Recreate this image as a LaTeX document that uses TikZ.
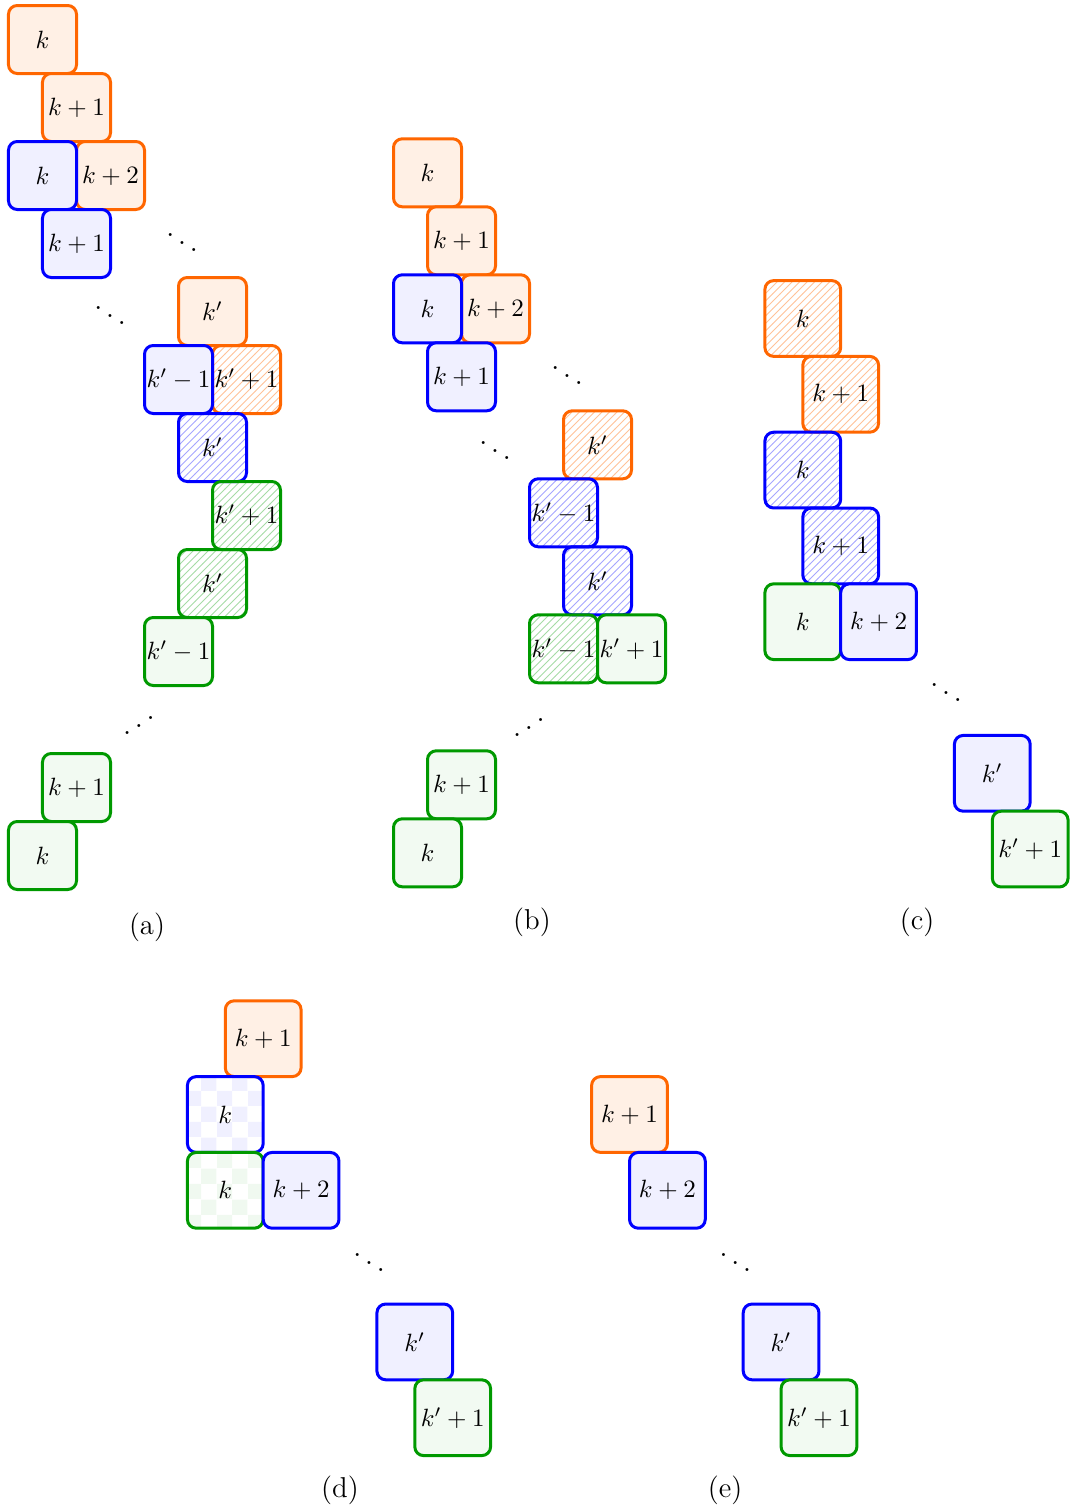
\documentclass[tikz,border=0pt]{standalone}
\usetikzlibrary{patterns,patterns.meta}
\definecolor{myorange}{RGB}{255,102,0}
\definecolor{myblue}{RGB}{0,0,255}
\definecolor{mygreen}{RGB}{0,153,0}
\tikzdeclarepattern{
  name=bigchecker,
  type=uncolored,
  bounding box={(0pt,0pt) and (12.4pt,12.4pt)},
  tile size={(12.4pt,12.4pt)},
  code={
    \fill (0pt,0pt) rectangle (6.2pt,6.2pt);
    \fill (6.2pt,6.2pt) rectangle (12.4pt,12.4pt);
  }
}
\tikzset{
  cell/.style={draw, line width=1.2pt, rounded corners=3.5pt, minimum size=27.2pt,
    inner sep=0pt, font=\fontsize{10}{12}\selectfont},
  big/.style={minimum size=30.3pt},
  ocell/.style={cell, draw=myorange, fill=myorange!10},
  bcell/.style={cell, draw=myblue, fill=myblue!6},
  gcell/.style={cell, draw=mygreen, fill=mygreen!5},
  ohatch/.style={cell, draw=myorange, pattern=north east lines, pattern color=myorange!40},
  bhatch/.style={cell, draw=myblue, pattern=north east lines, pattern color=myblue!35},
  ghatch/.style={cell, draw=mygreen, pattern=north east lines, pattern color=mygreen!35},
  bcheck/.style={cell, draw=myblue, pattern=bigchecker, pattern color=myblue!6},
  gcheck/.style={cell, draw=mygreen, pattern=bigchecker, pattern color=mygreen!6},
  dotsnode/.style={inner sep=0pt, anchor=base, font=\fontsize{12.4}{14}\selectfont},
  caption/.style={inner sep=0pt, font=\fontsize{11.5}{13}\selectfont},
}
\newcommand{\dd}{$\ddots$}
\newcommand{\ud}{\reflectbox{$\ddots$}}
\begin{document}
\begin{tikzpicture}[x=0.4pt,y=-0.4pt]
\useasboundingbox (0,0) rectangle (1070,1509);
% ---------- (a)
\node[ocell] (oa1) at (42.5,39.5) {$k$};
\node[ocell] (oa2) at (76.5,107.5) {$k+1$};
\node[ocell] (oa3) at (110.5,175.5) {$k+2$};
\node[bcell] (ba1) at (42.5,175.5) {$k$};
\node[bcell] (ba2) at (76.5,243.5) {$k+1$};
\node[dotsnode] (da1) at (182,254) {\dd};
\node[dotsnode] (da2) at (110,327) {\dd};
\node[ocell] (oa4) at (212.5,311.5) {$k'$};
\node[ohatch] (oa5) at (246.5,379.5) {$k'+1$};
\node[bcell] (ba3) at (178.5,379.5) {$k'-1$};
\node[bhatch] (ba4) at (212.5,447.5) {$k'$};
\node[ghatch] (ga1) at (246.5,515.5) {$k'+1$};
\node[ghatch] (ga2) at (212.5,583.5) {$k'$};
\node[gcell] (ga3) at (178.5,651.5) {$k'-1$};
\node[dotsnode] (da3) at (139,737) {\ud};
\node[gcell] (ga4) at (76.5,787.5) {$k+1$};
\node[gcell] (ga5) at (42.5,855.5) {$k$};
\node[caption] (ca) at (147,927) {(a)};
% ---------- (b)
\node[ocell] (ob1) at (427.5,172.8) {$k$};
\node[ocell] (ob2) at (461.5,240.8) {$k+1$};
\node[ocell] (ob3) at (495.5,308.8) {$k+2$};
\node[bcell] (bb1) at (427.5,308.8) {$k$};
\node[bcell] (bb2) at (461.5,376.8) {$k+1$};
\node[dotsnode] (db1) at (567,387) {\dd};
\node[dotsnode] (db2) at (495,462) {\dd};
\node[ohatch] (ob4) at (597.5,444.8) {$k'$};
\node[bhatch] (bb3) at (563.5,512.8) {$k'-1$};
\node[bhatch] (bb4) at (597.5,580.8) {$k'$};
\node[ghatch] (gb1) at (563.5,648.8) {$k'-1$};
\node[gcell] (gb2) at (631.5,648.8) {$k'+1$};
\node[dotsnode] (db3) at (529,739) {\ud};
\node[gcell] (gb3) at (461.5,784.8) {$k+1$};
\node[gcell] (gb4) at (427.5,852.8) {$k$};
\node[caption] (cb) at (532,922) {(b)};
% ---------- (c)
\node[ohatch,big] (oc1) at (802.8,318.5) {$k$};
\node[ohatch,big] (oc2) at (840.7,394.3) {$k+1$};
\node[bhatch,big] (bc1) at (802.8,470.1) {$k$};
\node[bhatch,big] (bc2) at (840.7,545.9) {$k+1$};
\node[gcell,big] (gc1) at (802.8,621.7) {$k$};
\node[bcell,big] (bc3) at (878.6,621.7) {$k+2$};
\node[dotsnode] (dc1) at (946,704) {\dd};
\node[bcell,big] (bc4) at (992.3,773.3) {$k'$};
\node[gcell,big] (gc2) at (1030.2,849.1) {$k'+1$};
\node[caption] (cc) at (917,922) {(c)};
% ---------- (d)
\node[ocell,big] (od1) at (263.2,1038.7) {$k+1$};
\node[bcheck,big] (bd1) at (225.3,1114.5) {$k$};
\node[gcheck,big] (gd1) at (225.3,1190.3) {$k$};
\node[bcell,big] (bd2) at (301.1,1190.3) {$k+2$};
\node[dotsnode] (dd1) at (369,1274) {\dd};
\node[bcell,big] (bd3) at (414.8,1341.9) {$k'$};
\node[gcell,big] (gd2) at (452.7,1417.7) {$k'+1$};
\node[caption] (cd) at (340,1490) {(d)};
% ---------- (e)
\node[ocell,big] (oe1) at (629.5,1114.5) {$k+1$};
\node[bcell,big] (be1) at (667.4,1190.3) {$k+2$};
\node[dotsnode] (de1) at (735.3,1274) {\dd};
\node[bcell,big] (be2) at (781.1,1341.9) {$k'$};
\node[gcell,big] (ge1) at (819,1417.7) {$k'+1$};
\node[caption] (ce) at (725,1490) {(e)};
\end{tikzpicture}
\end{document}
